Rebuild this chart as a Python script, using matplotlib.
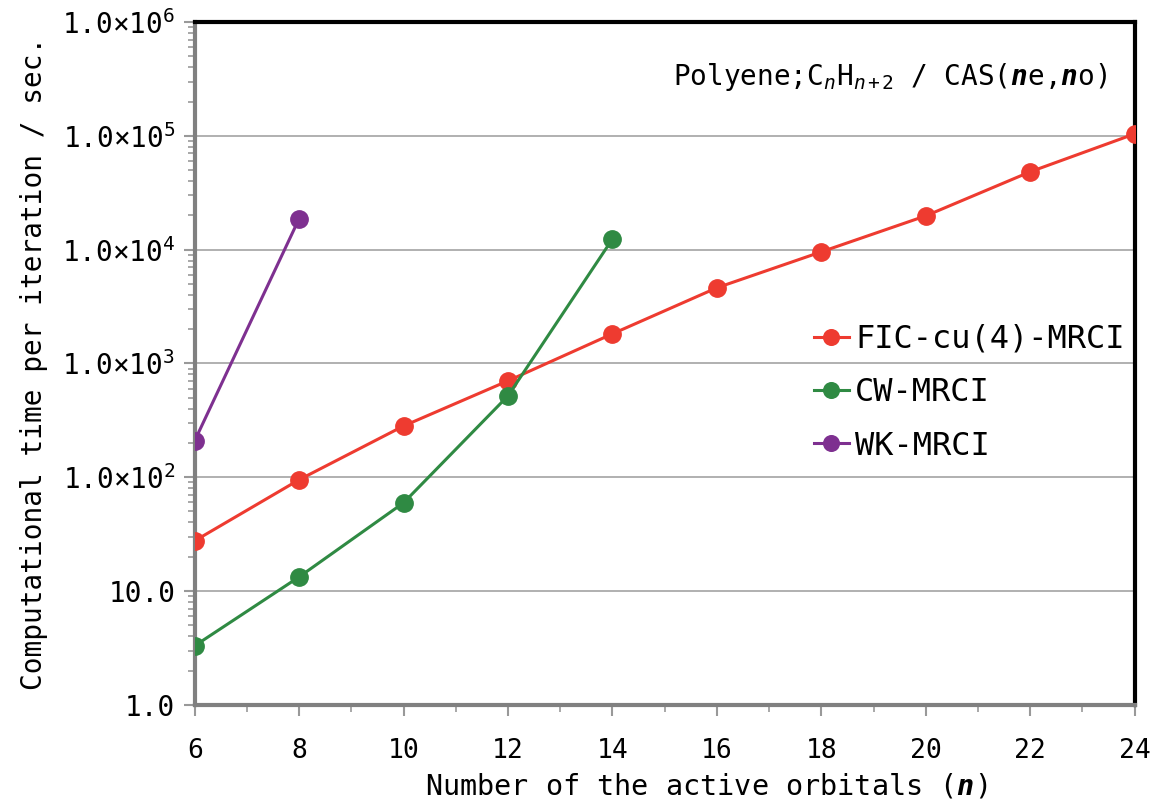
import matplotlib
matplotlib.use("Agg")
import matplotlib.pyplot as plt
from matplotlib.ticker import LogLocator, NullFormatter

plt.rcParams['font.family'] = ['DejaVu Sans Mono', 'DejaVu Sans']
plt.rcParams['mathtext.fontset'] = 'custom'
plt.rcParams['mathtext.rm'] = 'DejaVu Sans Mono'
plt.rcParams['mathtext.it'] = 'DejaVu Sans Mono:italic'
plt.rcParams['mathtext.bf'] = 'DejaVu Sans Mono:bold'
try:
    plt.rcParams['mathtext.bfit'] = 'DejaVu Sans Mono:italic:bold'
except KeyError:
    pass

# data
n_fic = [6, 8, 10, 12, 14, 16, 18, 20, 22, 24]
t_fic = [27.6, 95, 282, 703, 1820, 4620, 9560, 19800, 48300, 104000]
n_cw = [6, 8, 10, 12, 14]
t_cw = [3.3, 13.3, 59.6, 519, 12400]
n_wk = [6, 8]
t_wk = [209, 18700]

labels = ['FIC-cu(4)-MRCI', 'CW-MRCI', 'WK-MRCI']
colors = ['#ee3b30', '#2f8a43', '#7e3090']

yticks = [1, 10, 100, 1e3, 1e4, 1e5, 1e6]
ytick_labels = ['1.0', '10.0', r'$1.0{\times}10^{2}$', r'$1.0{\times}10^{3}$',
                r'$1.0{\times}10^{4}$', r'$1.0{\times}10^{5}$', r'$1.0{\times}10^{6}$']
xticks = [6, 8, 10, 12, 14, 16, 18, 20, 22, 24]

fig = plt.figure(figsize=(11.52, 8), dpi=100)
ax = fig.add_axes([0.169, 0.119, 0.816, 0.8535])

for xs, ys, c, lab in zip([n_fic, n_cw, n_wk], [t_fic, t_cw, t_wk], colors, labels):
    ax.plot(xs, ys, '-o', color=c, lw=2.2, ms=12.5, label=lab, zorder=3)

ax.set_yscale('log')
ax.set_xlim(6, 24)
ax.set_ylim(1, 1e6)
ax.set_yticks(yticks)
ax.set_yticklabels(ytick_labels)
ax.yaxis.set_minor_locator(LogLocator(base=10, subs=range(2, 10)))
ax.yaxis.set_minor_formatter(NullFormatter())
ax.set_xticks(xticks)
ax.set_xticks(range(7, 24, 2), minor=True)

ax.tick_params(axis='both', which='major', direction='out', length=8, width=1.5,
               color='#999999', labelsize=19)
ax.tick_params(axis='y', which='major', labelsize=20, pad=6)
ax.tick_params(axis='both', which='minor', direction='out', length=5, width=1.2,
               color='#999999')
ax.tick_params(axis='x', which='major', pad=16)

ax.grid(True, axis='y', which='major', color='#aaaaaa', lw=1.3)
ax.set_axisbelow(True)

for s in ['left', 'bottom']:
    ax.spines[s].set_color('#808080')
    ax.spines[s].set_linewidth(3)
for s in ['top', 'right']:
    ax.spines[s].set_color('black')
    ax.spines[s].set_linewidth(3)

ax.set_xlabel(r'Number of the active orbitals ($\mathbfit{n}$)', fontsize=20.5)
ax.xaxis.set_label_coords(0.544, -0.097)
ax.set_ylabel('Computational time per iteration / sec.', fontsize=20, labelpad=10)

ax.text(0.971, 0.919,
        r'Polyene;C$_{\mathit{n}}$H$_{\mathit{n+2}}$ / CAS($\mathbfit{n}$e,$\mathbfit{n}$o)',
        transform=ax.transAxes, ha='right', va='center', fontsize=20)

leg = ax.legend(loc='center right', bbox_to_anchor=(1.02, 0.457), frameon=False,
                fontsize=23, handlelength=1.1, handletextpad=0.2, labelspacing=0.7,
                markerscale=0.9)

fig.savefig('out.png', dpi=100)
